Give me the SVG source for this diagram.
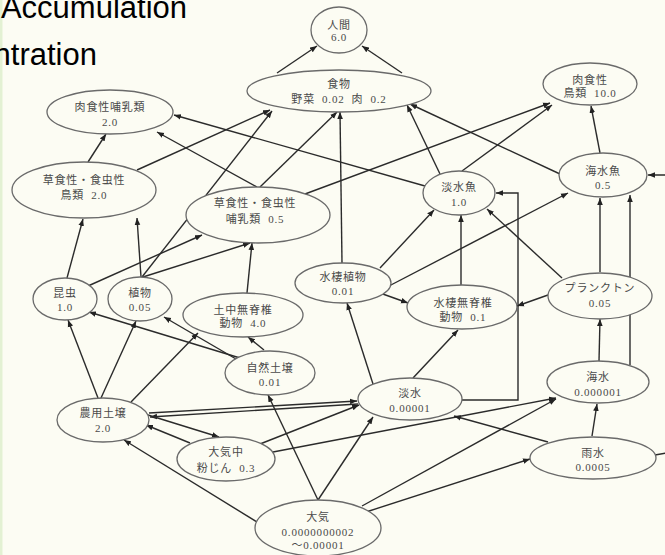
<svg xmlns="http://www.w3.org/2000/svg" width="665" height="555" viewBox="0 0 665 555">
<defs>
<marker id="a" viewBox="0 0 10 10" refX="10" refY="5" markerWidth="7" markerHeight="7" markerUnits="userSpaceOnUse" orient="auto"><path d="M0,1 L10,5 L0,9 z" fill="#222"/></marker>
<style>
.n ellipse{fill:#fcfcf3;stroke:#6a6a6a;stroke-width:1.3}
.n text{font-family:"Liberation Serif","Noto Sans CJK JP",serif;font-size:11px;fill:#4a4a4a;text-anchor:middle;letter-spacing:0.8px}
#edges path{fill:none;stroke:#2b2b2b;stroke-width:1.4;marker-end:url(#a)}
.t{font-family:"Liberation Sans",Arial,sans-serif;font-size:31px;fill:#000;text-anchor:end}
</style>
</defs>
<rect x="0" y="0" width="665" height="555" fill="#fcfcf3"/>
<rect x="0" y="0" width="2.5" height="555" fill="#e3f1d3"/>
<text class="t" x="187" y="18">Accumulation</text>
<text class="t" x="97" y="65">ntration</text>

<g id="edges">
<path d="M277,73 L317,46"/>
<path d="M402,73 L362,46"/>
<path d="M137,170 L270,110"/>
<path d="M142,277 L272,111"/>
<path d="M260,187 L337,112"/>
<path d="M342,263 L340,112"/>
<path d="M440,174 L407,105"/>
<path d="M560,174 L410,104"/>
<path d="M88,162 L106,134"/>
<path d="M425,186 L174,115"/>
<path d="M257,187 L157,132"/>
<path d="M305,194 L550,103"/>
<path d="M462,171 L552,105"/>
<path d="M600,153 L591,106"/>
<path d="M67,278 L83,219"/>
<path d="M141,277 L137,218"/>
<path d="M88,286 L202,235"/>
<path d="M143,277 L250,243"/>
<path d="M247,293 L252,243"/>
<path d="M240,358 L89,312"/>
<path d="M236,359 L164,317"/>
<path d="M264,350 L248,337"/>
<path d="M98,398 L68,320"/>
<path d="M101,398 L136,321"/>
<path d="M131,402 L198,333"/>
<path d="M380,268 L434,210"/>
<path d="M461,285 L461,215"/>
<path d="M562,278 L487,209"/>
<path d="M462,400 L518,400 L518,193 L496,193"/>
<path d="M389,286 L568,193"/>
<path d="M600,272 L600,198"/>
<path d="M630,365 L630,195"/>
<path d="M655,455 L672,452 L672,175 L648,175"/>
<path d="M380,293 L408,303"/>
<path d="M548,295 L517,306"/>
<path d="M413,378 L458,330"/>
<path d="M373,384 L347,303"/>
<path d="M599,361 L600,319"/>
<path d="M592,436 L597,404"/>
<path d="M273,452 L556,398"/>
<path d="M362,506 L556,399"/>
<path d="M366,512 L530,459"/>
<path d="M548,442 L454,416"/>
<path d="M149,413 L357,401"/>
<path d="M358,404 L150,417"/>
<path d="M260,444 L359,405"/>
<path d="M318,500 L373,417"/>
<path d="M148,415 L219,437"/>
<path d="M190,443 L146,425"/>
<path d="M257,522 L124,440"/>
<path d="M318,500 L268,395"/>
</g>

<g id="n_ningen" class="n"><ellipse cx="339" cy="30" rx="28" ry="23"/><text x="339" y="29">人間</text><text x="339" y="41">6.0</text></g>
<g id="n_shokumotsu" class="n"><ellipse cx="339" cy="91" rx="92" ry="21"/><text x="339" y="88">食物</text><text x="339" y="103">野菜&#160; 0.02&#160; 肉&#160; 0.2</text></g>
<g id="n_nikushoku_honyu" class="n"><ellipse cx="110" cy="112" rx="63" ry="22"/><text x="110" y="111">肉食性哺乳類</text><text x="110" y="126">2.0</text></g>
<g id="n_nikushoku_chorui" class="n"><ellipse cx="590" cy="84" rx="47" ry="21"/><text x="590" y="84">肉食性</text><text x="590" y="97">鳥類&#160; 10.0</text></g>
<g id="n_soshoku_chorui" class="n"><ellipse cx="84" cy="190" rx="72" ry="28"/><text x="84" y="184">草食性・食虫性</text><text x="84" y="199">鳥類&#160; 2.0</text></g>
<g id="n_soshoku_honyu" class="n"><ellipse cx="258" cy="215" rx="72" ry="28"/><text x="255" y="207">草食性・食虫性</text><text x="255" y="223">哺乳類&#160; 0.5</text></g>
<g id="n_tansuigyo" class="n"><ellipse cx="459" cy="193" rx="36" ry="22"/><text x="459" y="191">淡水魚</text><text x="459" y="206">1.0</text></g>
<g id="n_kaisuigyo" class="n"><ellipse cx="603" cy="175" rx="44" ry="22"/><text x="603" y="175">海水魚</text><text x="603" y="189">0.5</text></g>
<g id="n_konchu" class="n"><ellipse cx="65" cy="299" rx="32" ry="21"/><text x="65" y="297">昆虫</text><text x="65" y="311">1.0</text></g>
<g id="n_shokubutsu" class="n"><ellipse cx="140" cy="299" rx="32" ry="22"/><text x="140" y="297">植物</text><text x="140" y="311">0.05</text></g>
<g id="n_suisei_shokubutsu" class="n"><ellipse cx="343" cy="283" rx="48" ry="20"/><text x="343" y="281">水棲植物</text><text x="343" y="295">0.01</text></g>
<g id="n_suisei_musekitsui" class="n"><ellipse cx="462" cy="307" rx="55" ry="22"/><text x="463" y="307">水棲無脊椎</text><text x="463" y="321">動物&#160; 0.1</text></g>
<g id="n_plankton" class="n"><ellipse cx="600" cy="296" rx="52" ry="23"/><text x="600" y="292">プランクトン</text><text x="600" y="307">0.05</text></g>
<g id="n_dochu_musekitsui" class="n"><ellipse cx="243" cy="315" rx="60" ry="22"/><text x="243" y="314">土中無脊椎</text><text x="243" y="327">動物&#160; 4.0</text></g>
<g id="n_shizen_dojo" class="n"><ellipse cx="270" cy="373" rx="45" ry="22"/><text x="270" y="372">自然土壌</text><text x="270" y="386">0.01</text></g>
<g id="n_tansui" class="n"><ellipse cx="410" cy="399" rx="52" ry="21"/><text x="410" y="397">淡水</text><text x="410" y="412">0.00001</text></g>
<g id="n_kaisui" class="n"><ellipse cx="598" cy="382" rx="51" ry="21"/><text x="598" y="381">海水</text><text x="598" y="396">0.000001</text></g>
<g id="n_noyo_dojo" class="n"><ellipse cx="103" cy="420" rx="46" ry="22"/><text x="103" y="417">農用土壌</text><text x="103" y="432">2.0</text></g>
<g id="n_taikichu_funjin" class="n"><ellipse cx="226" cy="459" rx="49" ry="22"/><text x="226" y="456">大気中</text><text x="226" y="472">粉じん&#160; 0.3</text></g>
<g id="n_usui" class="n"><ellipse cx="593" cy="458" rx="63" ry="21"/><text x="593" y="457">雨水</text><text x="593" y="471">0.0005</text></g>
<g id="n_taiki" class="n"><ellipse cx="318" cy="528" rx="63" ry="28"/><text x="318" y="521">大気</text><text x="318" y="536">0.0000000002</text><text x="318" y="549">〜0.00001</text></g>
</svg>
